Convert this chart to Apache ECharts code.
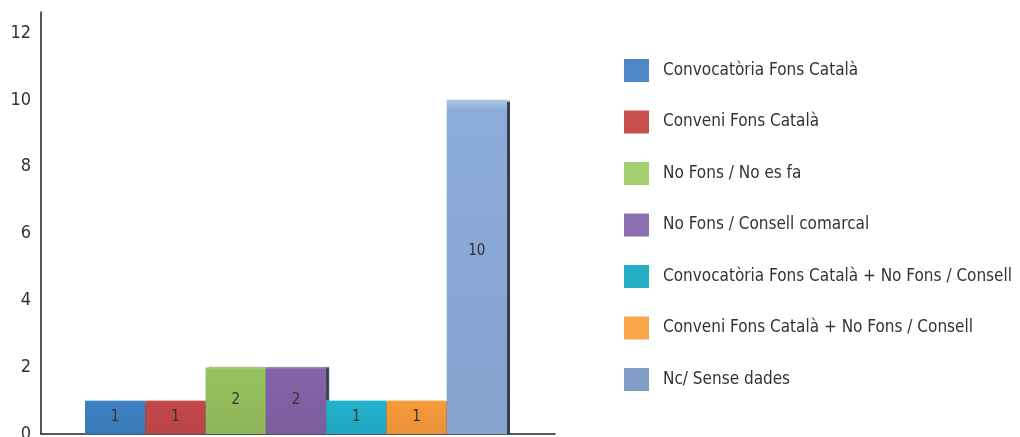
<!DOCTYPE html>
<html>
<head>
<meta charset="utf-8">
<script src="https://cdn.jsdelivr.net/npm/echarts@6/dist/echarts.min.js"></script>
<style>
  html, body { margin: 0; padding: 0; background: #fff; }
  #chart { width: 1020px; height: 437px; }
</style>
</head>
<body>
<div id="chart"></div>
<script>
// Categories (one bar each) and their counts
const categories = [
  'Convocatòria Fons Català',
  'Conveni Fons Català',
  'No Fons / No es fa',
  'No Fons / Consell comarcal',
  'Convocatòria Fons Català + No Fons / Consell',
  'Conveni Fons Català + No Fons / Consell',
  'Nc/ Sense dades'
];
const values = [1, 1, 2, 2, 1, 1, 10];
const yTicks = [0, 2, 4, 6, 8, 10, 12];

// Palette: bar fill and legend swatch
const barColors = ['#3e81c3', '#c4484a', '#97c15f', '#8364a8', '#22b1cc', '#f79a3a', '#8cacdb'];
const swatchColors = ['#4f87c6', '#c94f4f', '#a3cf70', '#8c6fb0', '#25adc6', '#f9a54a', '#819dc6'];

const FONT = '"Liberation Sans Narrow", "Arial Narrow", "DejaVu Sans Condensed", sans-serif';
const Y_MAX = 12.63;

function shade(hex, amt) {
  const n = parseInt(hex.slice(1), 16);
  let r = (n >> 16) & 255, g = (n >> 8) & 255, b = n & 255;
  const f = v => Math.max(0, Math.min(255, Math.round(amt >= 0 ? v + (255 - v) * amt : v * (1 + amt))));
  return 'rgb(' + f(r) + ',' + f(g) + ',' + f(b) + ')';
}

function barFill(c) {
  return new echarts.graphic.LinearGradient(0, 0, 0, 1, [
    { offset: 0, color: shade(c, 0.3) },
    { offset: 0.03, color: c },
    { offset: 1, color: shade(c, -0.06) }
  ]);
}

const series = categories.map((name, i) => ({
  name: name,
  type: 'bar',
  xAxisIndex: 1,
  yAxisIndex: 1,
  stack: 'all',
  barWidth: '100%',
  data: categories.map((_, j) => (j === i ? values[i] : null)),
  itemStyle: {
    color: barFill(barColors[i]),
    shadowColor: 'rgba(25,30,45,0.85)',
    shadowOffsetX: 3,
    shadowOffsetY: 0,
    shadowBlur: 1
  },
  label: {
    show: true,
    position: 'inside',
    offset: values[i] >= 5 ? [0, -16] : [0, 0],
    color: '#333',
    fontSize: 15,
    fontFamily: FONT
  }
}));

const chart = echarts.init(document.getElementById('chart'));
chart.setOption({
  backgroundColor: '#fff',
  animation: false,
  legend: {
    orient: 'vertical',
    left: 624,
    top: 59,
    padding: 0,
    itemWidth: 25,
    itemHeight: 23,
    itemGap: 28.5,
    icon: 'rect',
    textStyle: { color: '#333', fontSize: 17, fontFamily: FONT, padding: [5, 0, 0, 9] },
    data: categories.map((name, i) => ({ name: name, itemStyle: { color: swatchColors[i], shadowBlur: 0, shadowOffsetX: 0 } }))
  },
  grid: [
    { left: 41, right: 465, top: 12, bottom: 3, containLabel: false, outerBoundsMode: 'none' },
    { left: 85, width: 422, top: 12, bottom: 3, containLabel: false, outerBoundsMode: 'none' }
  ],
  xAxis: [
    {
      gridIndex: 0, type: 'value', min: 0, max: 1,
      axisLine: { show: true, lineStyle: { color: '#222', width: 1.5 } },
      axisTick: { show: false }, axisLabel: { show: false }, splitLine: { show: false }
    },
    {
      gridIndex: 1, type: 'category', data: categories,
      axisLine: { show: false }, axisTick: { show: false }, axisLabel: { show: false }, splitLine: { show: false }
    }
  ],
  yAxis: [
    {
      gridIndex: 0, type: 'value', min: 0, max: Y_MAX, interval: 2,
      axisLine: { show: true, lineStyle: { color: '#222', width: 1.5 } },
      axisTick: { show: false }, splitLine: { show: false },
      axisLabel: {
        color: '#333', fontSize: 18, fontFamily: FONT, margin: 10,
        formatter: v => (yTicks.indexOf(v) >= 0 ? String(v) : '')
      }
    },
    {
      gridIndex: 1, type: 'value', min: 0, max: Y_MAX,
      show: false, splitLine: { show: false }
    }
  ],
  series: series
});
</script>
</body>
</html>
